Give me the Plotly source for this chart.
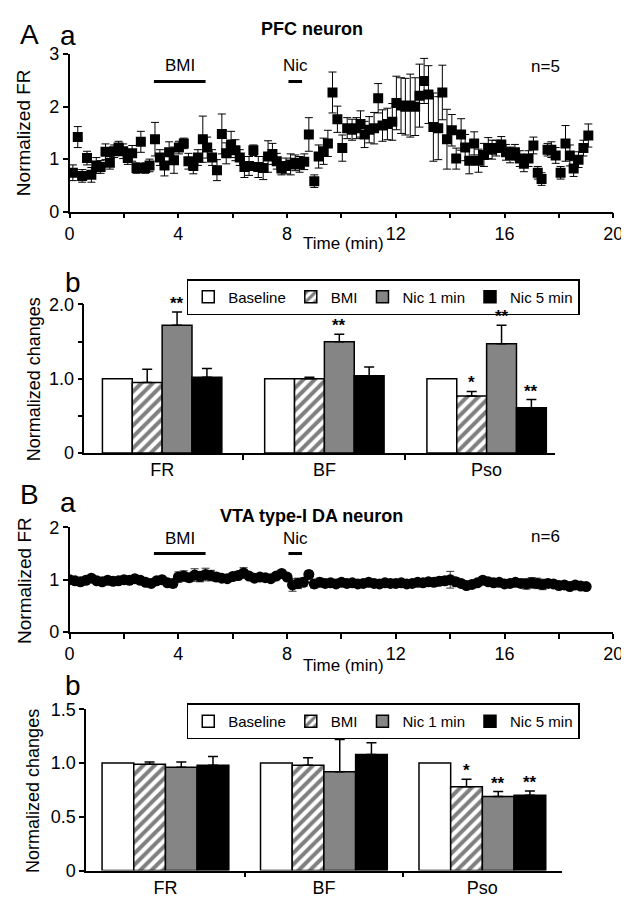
import plotly.graph_objects as go

# ---------------- DATA ----------------
# Panel A-a: PFC neuron, normalized firing rate over time
aa_time = [0.12, 0.30, 0.46, 0.64, 0.80, 0.98, 1.14, 1.32, 1.48, 1.64, 1.80, 1.97, 2.14, 2.30, 2.46, 2.62,
           2.78, 2.94, 3.14, 3.32, 3.49, 3.66, 3.84, 4.02, 4.20, 4.37, 4.55, 4.72, 4.90, 5.06, 5.24, 5.42,
           5.60, 5.76, 5.94, 6.10, 6.26, 6.43, 6.60, 6.76, 6.94, 7.12, 7.30, 7.46, 7.62, 7.79, 7.96, 8.13,
           8.30, 8.46, 8.63, 8.80, 9.00, 9.16, 9.34, 9.50, 9.67, 9.85, 10.03, 10.21, 10.39, 10.55, 10.70,
           10.85, 11.02, 11.20, 11.35, 11.51, 11.69, 11.87, 12.02, 12.19, 12.35, 12.53, 12.71, 12.87, 13.04,
           13.20, 13.38, 13.56, 13.71, 13.88, 14.06, 14.22, 14.40, 14.55, 14.70, 14.88, 15.04, 15.24, 15.40,
           15.54, 15.69, 15.88, 16.05, 16.20, 16.38, 16.56, 16.71, 16.88, 17.06, 17.22, 17.36, 17.58, 17.72,
           17.88, 18.06, 18.24, 18.40, 18.54, 18.72, 18.90, 19.08]
aa_fr = [0.74, 1.42, 0.68, 1.02, 0.70, 0.88, 0.85, 1.14, 0.93, 1.15, 1.22, 1.15, 1.02, 1.11, 0.83, 1.33,
         0.83, 0.88, 1.38, 1.03, 0.88, 1.13, 0.98, 1.22, 1.30, 0.96, 0.87, 1.03, 1.38, 1.22, 1.03, 0.79,
         1.48, 1.11, 1.28, 1.17, 1.03, 0.85, 0.87, 1.17, 0.85, 0.83, 1.05, 1.10, 0.96, 0.82, 0.87, 0.90,
         0.93, 0.90, 0.95, 1.47, 0.58, 1.05, 1.15, 1.30, 2.27, 1.76, 1.21, 1.59, 1.56, 1.59, 1.67,
         1.47, 1.56, 1.59, 2.16, 1.64, 1.67, 1.71, 2.07, 2.02, 2.00, 2.02, 2.00, 2.21, 2.49,
         2.23, 1.61, 1.59, 2.27, 1.38, 1.55, 1.01, 1.47, 1.22, 0.97, 1.30, 0.97, 1.08, 1.21,
         1.18, 1.21, 1.28, 1.13, 1.08, 1.13, 1.01, 0.91, 1.01, 1.26, 0.74, 0.62, 1.18, 1.18,
         1.07, 0.74, 1.30, 1.07, 0.82, 0.99, 1.21, 1.45]
aa_err = [0.15, 0.20, 0.12, 0.13, 0.14, 0.15, 0.12, 0.15, 0.12, 0.12, 0.12, 0.14, 0.12, 0.15, 0.10, 0.20,
          0.10, 0.12, 0.32, 0.15, 0.20, 0.20, 0.25, 0.12, 0.10, 0.15, 0.15, 0.15, 0.44, 0.20, 0.15, 0.20,
          0.38, 0.20, 0.25, 0.20, 0.15, 0.20, 0.18, 0.10, 0.20, 0.22, 0.30, 0.20, 0.15, 0.12, 0.15, 0.20,
          0.15, 0.15, 0.15, 0.32, 0.12, 0.22, 0.25, 0.25, 0.39, 0.25, 0.25, 0.20, 0.20, 0.20, 0.25,
          0.25, 0.25, 0.30, 0.28, 0.30, 0.30, 0.35, 0.51, 0.53, 0.54, 0.60, 0.55, 0.60, 0.43,
          0.55, 0.65, 0.60, 0.52, 0.57, 0.30, 0.20, 0.30, 0.25, 0.25, 0.22, 0.22, 0.22, 0.20,
          0.18, 0.15, 0.15, 0.15, 0.15, 0.15, 0.15, 0.15, 0.15, 0.16, 0.12, 0.12, 0.12, 0.15,
          0.15, 0.12, 0.34, 0.20, 0.15, 0.15, 0.15, 0.22]

# Panel B-a: VTA type-I DA neuron
ba_time = [0.0, 0.2, 0.4, 0.6, 0.8, 1.0, 1.2, 1.4, 1.6, 1.8, 2.0, 2.2, 2.4, 2.6, 2.8, 3.0, 3.2, 3.4, 3.6, 3.8,
           4.0, 4.2, 4.4, 4.6, 4.8, 5.0, 5.2, 5.4, 5.6, 5.8, 6.0, 6.2, 6.4, 6.6, 6.8, 7.0, 7.2, 7.4, 7.6, 7.8,
           8.0, 8.2, 8.4, 8.6, 8.8, 9.0, 9.2, 9.4, 9.6, 9.8, 10.0, 10.2, 10.4, 10.6, 10.8, 11.0, 11.2, 11.4,
           11.6, 11.8, 12.0, 12.2, 12.4, 12.6, 12.8, 13.0, 13.2, 13.4, 13.6, 13.8, 14.0, 14.2, 14.4, 14.6,
           14.8, 15.0, 15.2, 15.4, 15.6, 15.8, 16.0, 16.2, 16.4, 16.6, 16.8, 17.0, 17.2, 17.4, 17.6, 17.8,
           18.0, 18.2, 18.4, 18.6, 18.8, 19.0]
ba_fr = [1.00, 0.98, 0.96, 0.99, 1.03, 0.98, 0.96, 0.99, 0.97, 0.98, 1.00, 0.99, 1.02, 0.99, 0.95, 0.93,
         0.98, 1.00, 0.94, 0.93, 1.05, 1.07, 1.04, 1.09, 1.06, 1.10, 1.08, 1.05, 1.03, 1.02, 1.06, 1.08,
         1.13, 1.07, 1.03, 1.05, 1.04, 1.02, 1.07, 1.12, 1.05, 0.90, 0.93, 0.95, 1.10, 0.92, 0.95, 0.93,
         0.94, 0.92, 0.95, 0.93, 0.94, 0.92, 0.93, 0.95, 0.93, 0.92, 0.94, 0.93, 0.93, 0.94, 0.92, 0.93,
         0.95, 0.94, 0.96, 0.95, 0.97, 0.98, 1.00, 0.96, 0.93, 0.89, 0.91, 0.94, 0.99, 0.96, 0.94, 0.95,
         0.92, 0.93, 0.95, 0.93, 0.92, 0.94, 0.93, 0.91, 0.93, 0.92, 0.89, 0.90, 0.87, 0.90, 0.88, 0.87]
ba_err = [0.03, 0.03, 0.03, 0.03, 0.04, 0.03, 0.03, 0.03, 0.03, 0.03, 0.04, 0.03, 0.04, 0.03, 0.04, 0.04,
          0.04, 0.04, 0.05, 0.08, 0.10, 0.10, 0.08, 0.12, 0.10, 0.12, 0.10, 0.08, 0.06, 0.06, 0.07, 0.08,
          0.10, 0.06, 0.05, 0.05, 0.05, 0.05, 0.06, 0.06, 0.06, 0.12, 0.10, 0.08, 0.07, 0.08, 0.08, 0.07,
          0.07, 0.06, 0.07, 0.06, 0.06, 0.06, 0.06, 0.06, 0.05, 0.05, 0.05, 0.05, 0.05, 0.05, 0.05, 0.05,
          0.06, 0.06, 0.06, 0.07, 0.08, 0.08, 0.16, 0.08, 0.06, 0.06, 0.06, 0.06, 0.07, 0.07, 0.06, 0.06,
          0.06, 0.06, 0.07, 0.07, 0.10, 0.10, 0.10, 0.10, 0.06, 0.05, 0.04, 0.04, 0.04, 0.04, 0.04, 0.04]

# Drug application periods (min) and annotations
drug_names = ["BMI", "Nic"]
drug_start = [3.1, 8.05]
drug_end = [5.0, 8.55]
aa_drug_level = 2.48
ba_drug_level = 1.50
aa_n_label = "n=5"
ba_n_label = "n=6"

# Bar panels
categories = ["FR", "BF", "Pso"]
series_names = ["Baseline", "BMI", "Nic 1 min", "Nic 5 min"]

ab_values = {
    "Baseline": [1.00, 1.00, 1.00],
    "BMI": [0.95, 1.00, 0.77],
    "Nic 1 min": [1.72, 1.50, 1.47],
    "Nic 5 min": [1.02, 1.04, 0.61],
}
ab_errors = {
    "Baseline": [0, 0, 0],
    "BMI": [0.18, 0.02, 0.06],
    "Nic 1 min": [0.18, 0.10, 0.25],
    "Nic 5 min": [0.12, 0.12, 0.11],
}
ab_sig = {
    "Baseline": ["", "", ""],
    "BMI": ["", "", "*"],
    "Nic 1 min": ["**", "**", "**"],
    "Nic 5 min": ["", "", "**"],
}

bb_values = {
    "Baseline": [1.00, 1.00, 1.00],
    "BMI": [0.99, 0.98, 0.78],
    "Nic 1 min": [0.96, 0.92, 0.69],
    "Nic 5 min": [0.98, 1.08, 0.70],
}
bb_errors = {
    "Baseline": [0, 0, 0],
    "BMI": [0.02, 0.07, 0.07],
    "Nic 1 min": [0.05, 0.30, 0.045],
    "Nic 5 min": [0.08, 0.11, 0.04],
}
bb_sig = {
    "Baseline": ["", "", ""],
    "BMI": ["", "", "*"],
    "Nic 1 min": ["", "", "**"],
    "Nic 5 min": ["", "", "**"],
}

# ---------------- STYLE ----------------
FONT = "Liberation Sans, Arial, sans-serif"
W, H = 629, 900


def px(xp):
    return xp / W


def py(yp):
    return 1 - yp / H


bar_style = {
    "Baseline": dict(color="white", pattern=None),
    "BMI": dict(color="white", pattern=dict(shape="/", fgcolor="black", bgcolor="white", size=8, solidity=0.5)),
    "Nic 1 min": dict(color="#858585", pattern=None),
    "Nic 5 min": dict(color="black", pattern=None),
}

fig = go.Figure()

# ---- A-a time course ----
fig.add_trace(go.Scatter(
    x=aa_time, y=aa_fr, mode="markers", xaxis="x", yaxis="y",
    marker=dict(symbol="square", size=10, color="black"),
    error_y=dict(type="data", array=aa_err, color="black", thickness=1, width=4),
    showlegend=False))

# ---- B-a time course ----
fig.add_trace(go.Scatter(
    x=ba_time, y=ba_fr, mode="markers", xaxis="x3", yaxis="y3",
    marker=dict(symbol="circle", size=11, color="black"),
    error_y=dict(type="data", array=ba_err, color="#333333", thickness=1, width=4),
    showlegend=False))

# drug bars
for ax, level in (("", aa_drug_level), ("3", ba_drug_level)):
    for s, e in zip(drug_start, drug_end):
        fig.add_trace(go.Scatter(
            x=[s, e], y=[level, level], mode="lines", xaxis="x" + ax, yaxis="y" + ax,
            line=dict(color="black", width=3), showlegend=False, hoverinfo="skip"))


# ---- bar panels ----
def add_bars(values, errors, sig, xa, ya, legend, bw):
    xs = list(range(len(categories)))
    nser = len(series_names)
    for i, name in enumerate(series_names):
        st = bar_style[name]
        marker = dict(color=st["color"], line=dict(color="black", width=1.5))
        if st["pattern"]:
            marker["pattern"] = st["pattern"]
        off = -nser * bw / 2 + i * bw
        has_err = any(v > 0 for v in errors[name])
        fig.add_trace(go.Bar(
            x=xs, y=values[name], name=name, xaxis=xa, yaxis=ya,
            width=bw, offset=off, marker=marker, legend=legend,
            error_y=dict(type="data", array=errors[name], arrayminus=[0] * len(xs), symmetric=False,
                         color="black", thickness=1.5, width=5, visible=has_err),
            showlegend=True))
        for k, txt in enumerate(sig[name]):
            if txt:
                fig.add_annotation(
                    x=xs[k] + off + bw / 2, y=values[name][k] + errors[name][k],
                    xref=xa, yref=ya, text="<b>" + txt + "</b>", showarrow=False, yanchor="bottom",
                    font=dict(family=FONT, size=17, color="black"), yshift=-3)


add_bars(ab_values, ab_errors, ab_sig, "x2", "y2", "legend", 0.184)
add_bars(bb_values, bb_errors, bb_sig, "x4", "y4", "legend2", 0.2)

# ---------------- LAYOUT ----------------
axis_common = dict(showline=True, linecolor="black", linewidth=1.5, ticks="outside", ticklen=5,
                   tickwidth=1.5, tickcolor="black", showgrid=False, zeroline=False,
                   tickfont=dict(family=FONT, size=18, color="black"))

time_ticks = [0, 4, 8, 12, 16, 20]

layout = dict(
    width=W, height=H, margin=dict(l=0, r=0, t=0, b=0),
    paper_bgcolor="white", plot_bgcolor="white",
    barmode="overlay",
    font=dict(family=FONT, color="black"),
    # A-a
    xaxis=dict(domain=[px(58), px(615)], range=[0, 20], anchor="y", tickvals=time_ticks,
               minor=dict(ticks="outside", dtick=2, tick0=0, ticklen=5, tickwidth=1.5, tickcolor="black"),
               **axis_common),
    yaxis=dict(domain=[py(198), py(37)], range=[0, 3], anchor="x", tickvals=[0, 1, 2, 3], **axis_common),
    # A-b
    xaxis2=dict(domain=[px(73), px(555)], range=[-0.48, 2.42], anchor="y2",
                tickvals=list(range(len(categories))), ticktext=categories,
                minor=dict(ticks="outside", tickvals=[0.5, 1.5], ticklen=5, tickwidth=1.5, tickcolor="black"),
                **{**axis_common, "ticks": "", "ticklen": 0}),
    yaxis2=dict(domain=[py(445), py(293)], range=[0, 2], anchor="x2",
                tickvals=[0, 0.5, 1, 1.5, 2], ticktext=["0", "", "1.0", "", "2.0"], **axis_common),
    # B-a
    xaxis3=dict(domain=[px(58), px(615)], range=[0, 20], anchor="y3", tickvals=time_ticks,
                minor=dict(ticks="outside", dtick=2, tick0=0, ticklen=5, tickwidth=1.5, tickcolor="black"),
                **axis_common),
    yaxis3=dict(domain=[py(628), py(521)], range=[0, 2], anchor="x3", tickvals=[0, 1, 2], **axis_common),
    # B-b
    xaxis4=dict(domain=[px(75), px(562)], range=[-0.5, 2.5], anchor="y4",
                tickvals=list(range(len(categories))), ticktext=categories,
                minor=dict(ticks="outside", tickvals=[0.5, 1.5], ticklen=5, tickwidth=1.5, tickcolor="black"),
                **{**axis_common, "ticks": "", "ticklen": 0}),
    yaxis4=dict(domain=[py(872), py(707)], range=[0, 1.5], anchor="x4",
                tickvals=[0, 0.5, 1.0, 1.5], ticktext=["0", "0.5", "1.0", "1.5"], **axis_common),
    legend=dict(x=px(178), y=py(267), xanchor="left", yanchor="top", orientation="h",
                bordercolor="black", borderwidth=1.5, bgcolor="white",
                font=dict(family=FONT, size=15, color="black"), traceorder="normal"),
    legend2=dict(x=px(178), y=py(701), xanchor="left", yanchor="top", orientation="h",
                 bordercolor="black", borderwidth=1.5, bgcolor="white",
                 font=dict(family=FONT, size=15, color="black"), traceorder="normal"),
)
fig.update_layout(**layout)


def text(x, y, s, size, xanchor="center", yanchor="middle", angle=0, xref="paper", yref="paper"):
    fig.add_annotation(x=x, y=y, xref=xref, yref=yref, text=s, showarrow=False,
                       xanchor=xanchor, yanchor=yanchor, textangle=angle,
                       font=dict(family=FONT, size=size, color="black"))


# panel letters
text(px(5), py(17), "A", 28, xanchor="left")
text(px(46), py(18), "a", 28, xanchor="left")
text(px(51), py(270), "b", 28, xanchor="left")
text(px(5), py(487), "B", 28, xanchor="left")
text(px(46), py(495), "a", 28, xanchor="left")
text(px(51), py(683), "b", 28, xanchor="left")

# titles
text(px(306), py(11), "<b>PFC neuron</b>", 18)
text(px(306), py(509), "<b>VTA type-I DA neuron</b>", 18)

# axis titles
text(px(339), py(231), "Time (min)", 17)
text(px(339), py(662), "Time (min)", 17)
text(px(11), py(117), "Normalized FR", 19, angle=-90)
text(px(11), py(575), "Normalized FR", 19, angle=-90)
text(px(21), py(369), "Normalized changes", 18, angle=-90)
text(px(21), py(790), "Normalized changes", 18, angle=-90)

# drug labels and n
for ax, level in (("", aa_drug_level), ("3", ba_drug_level)):
    for name, s, e in zip(drug_names, drug_start, drug_end):
        fig.add_annotation(x=(s + e) / 2, y=level, xref="x" + ax, yref="y" + ax, text=name,
                           showarrow=False, yanchor="bottom", yshift=4,
                           font=dict(family=FONT, size=17, color="black"))
fig.add_annotation(x=17.5, y=2.76, xref="x", yref="y", text=aa_n_label, showarrow=False,
                   font=dict(family=FONT, size=17, color="black"))
fig.add_annotation(x=17.5, y=1.82, xref="x3", yref="y3", text=ba_n_label, showarrow=False,
                   font=dict(family=FONT, size=17, color="black"))

fig.write_html("out.html")
